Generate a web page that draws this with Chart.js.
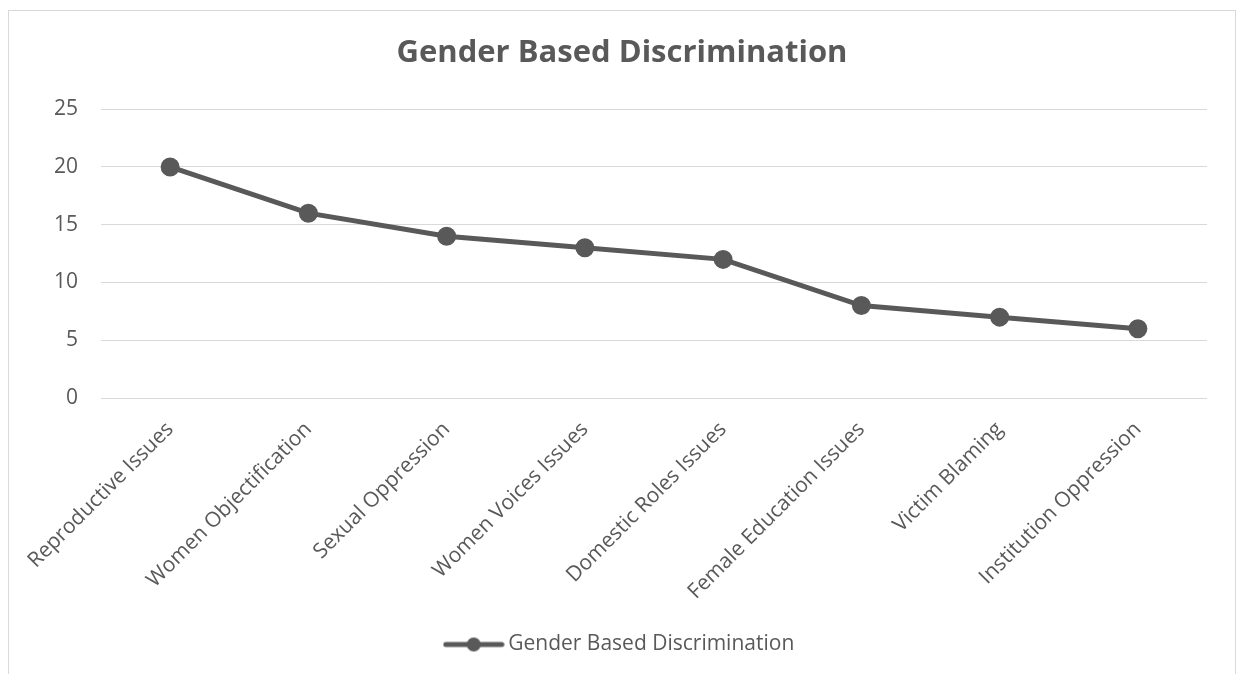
<!DOCTYPE html>
<html>
<head>
<meta charset="utf-8">
<script src="https://cdn.jsdelivr.net/npm/chart.js@4.4.4/dist/chart.umd.min.js"></script>
<style>
  body { margin: 0; background: #fff; }
  #box {
    position: absolute; left: 8px; top: 10px; width: 1226px; height: 672px;
    border: 1px solid #d9d9d9; background: #fff;
  }
</style>
</head>
<body>
<div id="box"><canvas id="chart"></canvas></div>
<script>
const categories = [
  'Reproductive Issues', 'Women Objectification', 'Sexual Oppression', 'Women Voices Issues',
  'Domestic Roles Issues', 'Female Education Issues', 'Victim Blaming', 'Institution Oppression'
];
const values = [20, 16, 14, 13, 12, 8, 7, 6];
const seriesName = 'Gender Based Discrimination';
const yTicks = [0, 5, 10, 15, 20, 25];

const grey = '#595959';
const font = 'Open Sans';

// legend marker: line with a dot in the middle
function legendMarker() {
  const c = document.createElement('canvas');
  c.width = 62; c.height = 16;
  const ctx = c.getContext('2d');
  ctx.strokeStyle = grey; ctx.lineWidth = 5; ctx.lineCap = 'round';
  ctx.beginPath(); ctx.moveTo(3, 8); ctx.lineTo(59, 8); ctx.stroke();
  ctx.fillStyle = grey;
  ctx.beginPath(); ctx.arc(31, 8, 7, 0, Math.PI * 2); ctx.fill();
  return c;
}
const marker = legendMarker();

const data = {
  labels: categories,
  datasets: [{
    label: seriesName,
    data: values,
    borderColor: grey,
    backgroundColor: grey,
    borderWidth: 5,
    pointRadius: 7,
    pointHoverRadius: 7,
    tension: 0,
  }],
};

const options = {
  responsive: true,
  maintainAspectRatio: false,
  animation: false,
  layout: { padding: { left: 0, right: 0, top: 0, bottom: 18 } },
  plugins: {
    title: {
      display: true,
      text: seriesName,
      color: grey,
      font: { family: font, size: 31, weight: 'bold' },
      padding: { top: 24, bottom: 37 },
    },
    legend: {
      position: 'bottom',
      labels: {
        color: grey,
        font: { family: font, size: 21 },
        usePointStyle: true,
        pointStyleWidth: 48,
        boxHeight: 16,
        generateLabels: chart => [{
          text: seriesName, pointStyle: marker, fillStyle: grey, strokeStyle: grey,
          lineWidth: 0, hidden: false, datasetIndex: 0, fontColor: grey,
        }],
      },
    },
    tooltip: { enabled: false },
  },
  scales: {
    x: {
      offset: true,
      grid: { display: false },
      border: { display: false },
      ticks: {
        color: grey, font: { family: font, size: 21 },
        maxRotation: 45, minRotation: 45, padding: 11,
      },
      afterFit: s => { s.height = 226; },
    },
    y: {
      min: 0, max: 25,
      afterBuildTicks: s => { s.ticks = yTicks.map(v => ({ value: v })); },
      grid: { color: '#d9d9d9', lineWidth: 1, drawTicks: false },
      border: { display: false },
      ticks: { color: grey, font: { family: font, size: 21 }, padding: 23 },
      afterFit: s => { s.width = 92; },
    },
    // empty right axis, only keeps a margin so title and legend stay centred
    yRight: {
      position: 'right',
      min: 0, max: 25,
      grid: { display: false },
      border: { display: false },
      ticks: { display: false },
      afterFit: s => { s.width = 28; },
    },
  },
};

new Chart(document.getElementById('chart'), { type: 'line', data, options });
</script>
</body>
</html>
